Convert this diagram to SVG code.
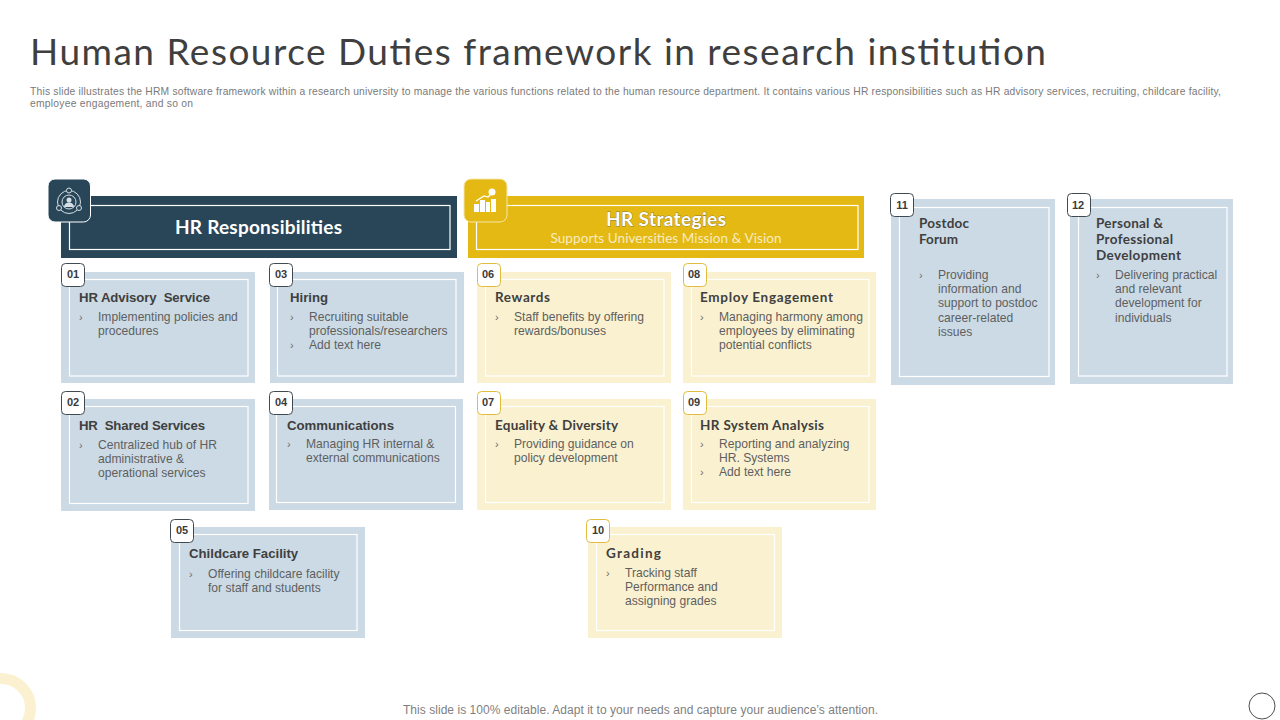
<svg xmlns="http://www.w3.org/2000/svg" width="1280" height="720" viewBox="0 0 1280 720">
<style>
text{font-family:"Liberation Sans",Arial,sans-serif}
.title{font-family:"Lato","Open Sans",sans-serif;font-size:37px;fill:#3f3f3f}
.sub{font-size:10.3px;fill:#7a7a7a}
.foot{font-size:12px;fill:#7f7f7f}
.bh{font-family:"Lato","Open Sans",sans-serif;font-weight:700;font-size:19px;fill:#fff;text-anchor:middle}
.bs{font-family:"Lato","Open Sans",sans-serif;font-size:13.5px;fill:#f8ecc0;text-anchor:middle}
.blue{fill:#cbdae5}.yel{fill:#faf1d0}
.in{fill:none;stroke:#fff;stroke-width:1.2}
.bb{fill:#fff;stroke:#404a52;stroke-width:1}
.by{fill:#fff;stroke:#e0bd3f;stroke-width:1}
.n{font-weight:700;font-size:11px;fill:#3b3b3b;text-anchor:middle}
.h{font-weight:700;font-size:13.2px;fill:#3f3f3f}
.h2{font-family:"Lato","Open Sans",sans-serif;font-weight:700;font-size:13.5px;fill:#3f3f3f}
.t{font-size:12.1px;fill:#5f5f5f}
.m{font-size:11px;fill:#6b6b6b}
</style>
<text class="title" x="30" y="65" textLength="1016" lengthAdjust="spacing">Human Resource Duties framework in research institution</text>
<text class="sub" x="30" y="95" textLength="1191" lengthAdjust="spacing">This slide illustrates the HRM  software framework within a research university to manage the various functions related to the human  resource department. It  contains various HR  responsibilities such as HR advisory services, recruiting, childcare facility,</text>
<text class="sub" x="30" y="107" textLength="163" lengthAdjust="spacing">employee engagement,  and so on</text>

<g id="header-responsibilities">
<rect x="61" y="196" width="396" height="62" fill="#284658"/>
<rect x="69.500" y="205.500" width="380.500" height="44" class="in"/>
<text class="bh" x="258.500" y="234" textLength="167" lengthAdjust="spacing">HR Responsibilities</text>
<rect x="48" y="179" width="42.500" height="43" rx="7" fill="#284658" stroke="#fff" stroke-width="1"/>
<g fill="none" stroke="#d5dfe5" stroke-width="1">
<circle cx="69" cy="202" r="11.500"/><circle cx="69" cy="202" r="7"/>
<circle cx="69" cy="190.500" r="2.500" fill="#284658"/><circle cx="59" cy="208" r="2.500" fill="#284658"/><circle cx="79" cy="208" r="2.500" fill="#284658"/>
</g>
<circle cx="69" cy="200" r="2.500" fill="#d5dfe5"/><path d="M64 207a5 4.500 0 0 1 10 0z" fill="#d5dfe5"/>
</g>

<g id="header-strategies">
<rect x="468" y="196" width="396" height="62" fill="#e5b913"/>
<rect x="476.500" y="205.500" width="381.500" height="44" class="in"/>
<text class="bh" x="666" y="226" textLength="120" lengthAdjust="spacing" style="paint-order:stroke" stroke="#8a7a3a" stroke-width="0.800">HR Strategies</text>
<text class="bs" x="666" y="243" textLength="231" lengthAdjust="spacing">Supports Universities Mission  &amp; Vision</text>
<rect x="464" y="179" width="43" height="43" rx="7" fill="#e5b913" stroke="#f5e6a8" stroke-width="1"/>
<g fill="#fff">
<rect x="474" y="204" width="5" height="8"/><rect x="480" y="200" width="5" height="12"/><rect x="486" y="202" width="4" height="10"/><rect x="491" y="199" width="5" height="13"/>
<circle cx="492" cy="192" r="3.500"/>
<path d="M476 201l8-5 4 1 3-3" fill="none" stroke="#fff" stroke-width="1.200"/>
</g>
</g>

<g id="node-01"><rect class="blue" x="61" y="272" width="194" height="111"/><rect class="in" x="69.500" y="279.500" width="178.500" height="96.500"/><rect class="bb" x="61.500" y="263.500" width="23" height="23" rx="4"/><text class="n" x="73" y="278">01</text>
<text class="h" x="79" y="301.500" textLength="131" lengthAdjust="spacing" style="white-space:pre">HR Advisory  Service</text><text class="m" x="79" y="321">›</text><text class="t" x="98" y="321">Implementing policies and</text><text class="t" x="98" y="335">procedures</text></g>

<g id="node-03"><rect class="blue" x="270" y="272" width="194" height="111"/><rect class="in" x="277.500" y="279.500" width="178.500" height="96.500"/><rect class="bb" x="269.500" y="263.500" width="23" height="23" rx="4"/><text class="n" x="281" y="278">03</text>
<text class="h" x="290" y="301.500">Hiring</text><text class="m" x="290" y="321">›</text><text class="t" x="309" y="321">Recruiting suitable</text><text class="t" x="309" y="335">professionals/researchers</text><text class="m" x="290" y="349">›</text><text class="t" x="309" y="349">Add text here</text></g>

<g id="node-02"><rect class="blue" x="61" y="399" width="194" height="112"/><rect class="in" x="69.500" y="406.500" width="178.500" height="97"/><rect class="bb" x="61.500" y="391.500" width="23" height="23" rx="4"/><text class="n" x="73" y="406">02</text>
<text class="h" x="79" y="429.500" textLength="126" lengthAdjust="spacing" style="white-space:pre">HR  Shared Services</text><text class="m" x="79" y="449">›</text><text class="t" x="98" y="449">Centralized hub of HR</text><text class="t" x="98" y="463">administrative &amp;</text><text class="t" x="98" y="477">operational services</text></g>

<g id="node-04"><rect class="blue" x="269" y="399" width="194" height="111"/><rect class="in" x="276.500" y="406.500" width="179" height="96"/><rect class="bb" x="269.500" y="391.500" width="23" height="23" rx="4"/><text class="n" x="281" y="406">04</text>
<text class="h" x="287" y="429.500">Communications</text><text class="m" x="287" y="448">›</text><text class="t" x="306" y="448">Managing HR internal &amp;</text><text class="t" x="306" y="462">external communications</text></g>

<g id="node-05"><rect class="blue" x="171" y="527" width="194" height="111"/><rect class="in" x="179.500" y="534.500" width="177.500" height="96"/><rect class="bb" x="170.500" y="519.500" width="23" height="23" rx="4"/><text class="n" x="182" y="534">05</text>
<text class="h" x="189" y="557.500">Childcare Facility</text><text class="m" x="189" y="578">›</text><text class="t" x="208" y="578">Offering childcare facility</text><text class="t" x="208" y="592">for staff and students</text></g>

<g id="node-06"><rect class="yel" x="477" y="272" width="194" height="111"/><rect class="in" x="485.500" y="279.500" width="178.500" height="96.500"/><rect class="by" x="477.500" y="263.500" width="23" height="23" rx="4"/><text class="n" x="488" y="278">06</text>
<text class="h2" x="495" y="301.500" textLength="55" lengthAdjust="spacing">Rewards</text><text class="m" x="495" y="321">›</text><text class="t" x="514" y="321">Staff benefits by offering</text><text class="t" x="514" y="335">rewards/bonuses</text></g>

<g id="node-08"><rect class="yel" x="683" y="272" width="193" height="111"/><rect class="in" x="691.500" y="279.500" width="177.500" height="96.500"/><rect class="by" x="683.500" y="263.500" width="23" height="23" rx="4"/><text class="n" x="694" y="278">08</text>
<text class="h2" x="700" y="301.500" textLength="133" lengthAdjust="spacing">Employ Engagement</text><text class="m" x="700" y="321">›</text><text class="t" x="719" y="321">Managing harmony among</text><text class="t" x="719" y="335">employees by eliminating</text><text class="t" x="719" y="349">potential conflicts</text></g>

<g id="node-07"><rect class="yel" x="477" y="399" width="194" height="111"/><rect class="in" x="485.500" y="406.500" width="178.500" height="96"/><rect class="by" x="477.500" y="391.500" width="23" height="23" rx="4"/><text class="n" x="488" y="406">07</text>
<text class="h2" x="495" y="429.500" textLength="123" lengthAdjust="spacing">Equality &amp; Diversity</text><text class="m" x="495" y="448">›</text><text class="t" x="514" y="448">Providing guidance on</text><text class="t" x="514" y="462">policy development</text></g>

<g id="node-09"><rect class="yel" x="683" y="399" width="193" height="111"/><rect class="in" x="691.500" y="406.500" width="177.500" height="96"/><rect class="by" x="683.500" y="391.500" width="23" height="23" rx="4"/><text class="n" x="694" y="406">09</text>
<text class="h2" x="700" y="429.500" textLength="124" lengthAdjust="spacing">HR System Analysis</text><text class="m" x="700" y="448">›</text><text class="t" x="719" y="448">Reporting and analyzing</text><text class="t" x="719" y="462">HR. Systems</text><text class="m" x="700" y="476">›</text><text class="t" x="719" y="476">Add text here</text></g>

<g id="node-10"><rect class="yel" x="588" y="527" width="194" height="111"/><rect class="in" x="596.500" y="534.500" width="178" height="96"/><rect class="by" x="586.500" y="519.500" width="23" height="23" rx="4"/><text class="n" x="598" y="534">10</text>
<text class="h2" x="606" y="557.500" textLength="55" lengthAdjust="spacing">Grading</text><text class="m" x="606" y="577">›</text><text class="t" x="625" y="577">Tracking staff</text><text class="t" x="625" y="591">Performance and</text><text class="t" x="625" y="605">assigning grades</text></g>

<g id="node-11"><rect class="blue" x="891" y="199" width="164" height="186"/><rect class="in" x="899.500" y="207.500" width="149.500" height="169"/><rect class="bb" x="890.500" y="193.500" width="23" height="23" rx="4"/><text class="n" x="902" y="209">11</text>
<text class="h2" x="919" y="228" textLength="50" lengthAdjust="spacing">Postdoc</text><text class="h2" x="919" y="244" textLength="39" lengthAdjust="spacing">Forum</text><text class="m" x="919" y="279">›</text><text class="t" x="938" y="279">Providing</text><text class="t" x="938" y="293">information and</text><text class="t" x="938" y="307">support to postdoc</text><text class="t" x="938" y="322">career-related</text><text class="t" x="938" y="336">issues</text></g>

<g id="node-12"><rect class="blue" x="1070" y="199" width="163" height="185"/><rect class="in" x="1078.500" y="207.500" width="148.500" height="168.500"/><rect class="bb" x="1067.500" y="193.500" width="23" height="23" rx="4"/><text class="n" x="1078" y="209">12</text>
<text class="h2" x="1096" y="228" textLength="67" lengthAdjust="spacing">Personal &amp;</text><text class="h2" x="1096" y="244" textLength="77" lengthAdjust="spacing">Professional</text><text class="h2" x="1096" y="260" textLength="85" lengthAdjust="spacing">Development</text><text class="m" x="1096" y="279">›</text><text class="t" x="1115" y="279">Delivering practical</text><text class="t" x="1115" y="293">and relevant</text><text class="t" x="1115" y="307">development for</text><text class="t" x="1115" y="322">individuals</text></g>

<g id="connectors"/>
<circle cx="1" cy="708" r="29.500" fill="none" stroke="#fbf0cf" stroke-width="11"/>
<circle cx="1262" cy="706" r="13" fill="#fff" stroke="#4a4f54" stroke-width="1"/>
<text class="foot" x="403" y="714" textLength="475" lengthAdjust="spacing">This slide is 100% editable. Adapt it to your needs and capture your audience’s attention.</text>
</svg>
